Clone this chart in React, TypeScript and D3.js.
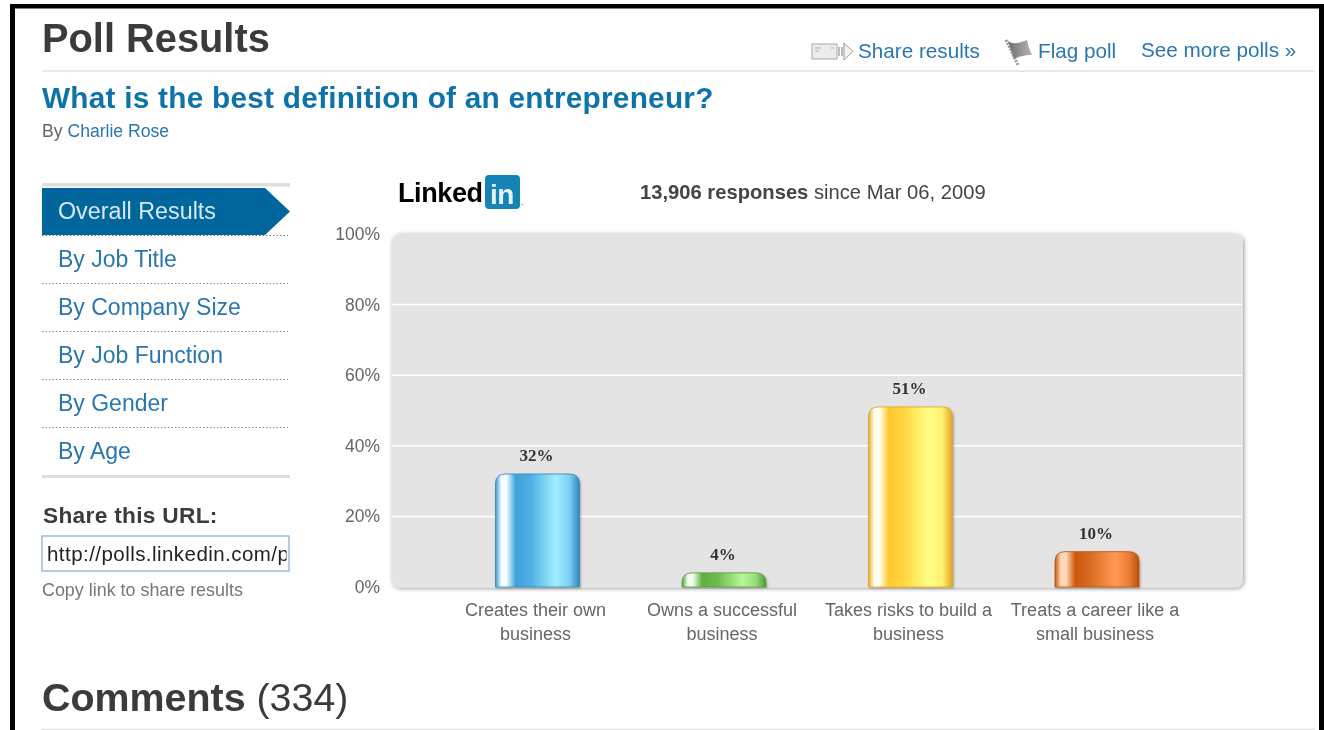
import React from "react";
import * as d3 from "d3";

const categories = ["Creates their own business", "Owns a successful business", "Takes risks to build a business", "Treats a career like a small business"];
const categoryLines = [["Creates their own", "business"], ["Owns a successful", "business"], ["Takes risks to build a", "business"], ["Treats a career like a", "small business"]];
const values = [32, 4, 51, 10];
const yTicks = [0, 20, 40, 60, 80, 100];
const navItems = ["By Job Title", "By Company Size", "By Job Function", "By Gender", "By Age"];
const barStops = [
  ["#3f98cf", "#f4fdff", "#f4fdff", "#3fa2d8", "#4fb0e4", "#a2eeff", "#7cd0f6", "#3585b8"],
  ["#55a43c", "#f0fde8", "#f0fde8", "#5fb040", "#6dbc4c", "#b8f79a", "#98dc78", "#4c9a38"],
  ["#e8ae28", "#fffff0", "#fffff0", "#ffc92e", "#ffd640", "#ffff88", "#fff070", "#dfa520"],
  ["#c4590e", "#ffd8b8", "#ffd8b8", "#cc5a0a", "#d86c20", "#ff9a55", "#ec7d35", "#b9500a"],
];
const stopOffsets = [0, 0.07, 0.13, 0.24, 0.42, 0.72, 0.88, 1];

const FONT = "'Liberation Sans', Arial, sans-serif";
const BLUE = "#2a77ad";
const DARK = "#3a3a3a";

const x = d3.scalePoint<string>().domain(categories).range([537.5, 1097]);
const y = d3.scaleLinear().domain([0, 100]).range([587, 234]);
const BAR_W = 84;

function barPath(cx: number, top: number, bottom: number) {
  const r = Math.min(10, bottom - top);
  const p = d3.path();
  p.moveTo(cx - BAR_W / 2, bottom);
  p.lineTo(cx - BAR_W / 2, top + r);
  p.quadraticCurveTo(cx - BAR_W / 2, top, cx - BAR_W / 2 + r, top);
  p.lineTo(cx + BAR_W / 2 - r, top);
  p.quadraticCurveTo(cx + BAR_W / 2, top, cx + BAR_W / 2, top + r);
  p.lineTo(cx + BAR_W / 2, bottom);
  p.closePath();
  return p.toString();
}

const T = (p: any) => <text fontFamily={FONT} {...p} />;

export default function App() {
  return (
    <svg width={1324} height={730} style={{ position: "absolute", left: 0, top: 0, display: "block", background: "#fff" }}>
      <defs>
        <filter id="soft" x="-2%" y="-2%" width="104%" height="104%"><feGaussianBlur stdDeviation="0.45" /></filter>
        <filter id="shadow" x="-3%" y="-3%" width="106%" height="106%">
          <feDropShadow dx="1" dy="1" stdDeviation="2" floodColor="#000" floodOpacity="0.4" />
        </filter>
        <filter id="barShadow" x="-10%" y="-10%" width="120%" height="120%">
          <feDropShadow dx="1" dy="1" stdDeviation="1.2" floodColor="#000" floodOpacity="0.3" />
        </filter>
        <linearGradient id="flagGrad" x1="0" x2="1" y1="0" y2="0">
          <stop offset="0" stopColor="#6f6f6f" />
          <stop offset="1" stopColor="#b5b5b5" />
        </linearGradient>
        {barStops.map((stops, i) => (
          <linearGradient key={i} id={`bar${i}`} x1="0" x2="1" y1="0" y2="0">
            {stops.map((c, j) => <stop key={j} offset={stopOffsets[j]} stopColor={c} />)}
          </linearGradient>
        ))}
      </defs>
      <g filter="url(#soft)">
        {/* frame */}
        <rect x={10} y={4} width={5} height={726} fill="#000" />
        <rect x={10} y={4} width={1314} height={4.5} fill="#000" />
        <rect x={1319} y={4} width={5} height={726} fill="#000" />

        {/* header */}
        <T x={42} y={52} fontSize={39.8} fontWeight="bold" fill={DARK}>Poll Results</T>
        <line x1={42} x2={1315} y1={71} y2={71} stroke="#e2e2e2" strokeWidth={1.5} />
        <g>
          <rect x={812} y={44} width={25} height={15} fill="#ececec" stroke="#a8a8a8" />
          <path d="M815 48h6M815 51h4M831 48h3" stroke="#aaa" strokeWidth={1} fill="none" />
          <path d="M838 47h2v9h-2zM841 47h2v9h-2z" fill="#bbb" />
          <path d="M844 47v-4l9 8.500-9 8.500v-4z" fill="#f2f2f2" stroke="#999" />
          <T x={858} y={58} fontSize={20.7} fill={BLUE}>Share results</T>
          <path d="M1006 40l12 25" stroke="#999" strokeWidth={3} strokeDasharray="2 1.200" />
          <path d="M1008 41c6 4 11 2 19-1c1 6 3 10 5 15c-8 0-14 2-18 4z" fill="url(#flagGrad)" />
          <T x={1038} y={58} fontSize={20.7} fill={BLUE}>Flag poll</T>
          <T x={1141} y={57} fontSize={20.7} fill={BLUE}>See more polls »</T>
        </g>

        {/* question */}
        <T x={42} y={108} fontSize={29.77} fontWeight="bold" fill="#0f73a8" letterSpacing={0.25}>What is the best definition of an entrepreneur?</T>
        <T x={42} y={137} fontSize={17.6} fill="#666">By <tspan fill={BLUE}>Charlie Rose</tspan></T>

        {/* navigation */}
        <rect x={42} y={183} width={248} height={3.5} fill="#dedede" />
        <path d="M42 188H265L290 211.500L265 235H42Z" fill="#00669c" />
        <T x={58} y={219} fontSize={23.3} fill="#d6e8f2">Overall Results</T>
        <line x1={42} x2={288} y1={235.500} y2={235.500} stroke="#777" strokeDasharray="1.500 2" />
        {navItems.map((n, i) => (
          <g key={n}>
            <T x={58} y={267 + i * 48} fontSize={23} fill={BLUE}>{n}</T>
            {i < navItems.length - 1 && (
              <line x1={42} x2={288} y1={283.500 + i * 48} y2={283.500 + i * 48} stroke="#888" strokeDasharray="1.500 2" />
            )}
          </g>
        ))}
        <rect x={42} y={475} width={248} height={3} fill="#dedede" />

        {/* share */}
        <T x={43} y={523} fontSize={22.7} fontWeight="bold" fill={DARK} letterSpacing={0.3}>Share this URL:</T>
        <clipPath id="urlClip"><rect x={44} y={537} width={242.500} height={33} /></clipPath>
        <rect x={42} y={536} width={247} height={35} fill="#fff" stroke="#8ba8c8" strokeWidth={1.2} />
        <g clipPath="url(#urlClip)">
          <T x={47} y={561} fontSize={20.5} letterSpacing={0.45} fill="#222">http://polls.linkedin.com/p</T>
        </g>
        <T x={42} y={596} fontSize={17.9} fill="#777">Copy link to share results</T>

        {/* comments */}
        <T x={42} y={711} fontSize={39.4} fontWeight="bold" fill={DARK}>Comments <tspan fontWeight="normal">(334)</tspan></T>
        <line x1={42} x2={1315} y1={729.500} y2={729.500} stroke="#e2e2e2" strokeWidth={1.5} />

        {/* logo + summary */}
        <T x={398} y={202} fontSize={27} fontWeight="bold" fill="#000" letterSpacing={-0.4}>Linked</T>
        <rect x={485} y={175} width={35} height={34} rx={4} fill="#1583b5" />
        <T x={490} y={204} fontSize={28} fontWeight="bold" fill="#e4f2f8" letterSpacing={-0.5}>in</T>
        <T x={521} y={205} fontSize={9} fill="#333">.</T>
        <T x={640} y={199} fontSize={20.2} fill="#444"><tspan fontWeight="bold">13,906 responses</tspan> since Mar 06, 2009</T>

        {/* chart */}
        <rect x={392} y={234} width={851} height={353.500} rx={8} fill="#e4e4e4" filter="url(#shadow)" />
        {yTicks.filter(t => t > 0 && t < 100).map(t => (
          <line key={t} x1={392} x2={1242} y1={y(t)} y2={y(t)} stroke="#fff" strokeWidth={1.5} />
        ))}
        {yTicks.map(t => (
          <T key={t} x={380} y={y(t) + 6} textAnchor="end" fontSize={17.5} fill="#666">{t}%</T>
        ))}
        {categories.map((c, i) => {
          const cx = x(c)!;
          return (
            <g key={c}>
              <path d={barPath(cx, y(values[i]), y(0))} fill={`url(#bar${i})`} stroke={barStops[i][7]} strokeWidth={0.8} filter="url(#barShadow)" />
              <text x={cx - 1} y={y(values[i]) - 13} textAnchor="middle" fontFamily="'Liberation Serif', 'DejaVu Serif', serif" fontWeight="bold" fontSize={17} fill="#333">{values[i]}%</text>
              {categoryLines[i].map((l, k) => (
                <T key={k} x={cx - 2} y={616 + k * 23.500} textAnchor="middle" fontSize={18} fill="#666">{l}</T>
              ))}
            </g>
          );
        })}
      </g>
    </svg>
  );
}
